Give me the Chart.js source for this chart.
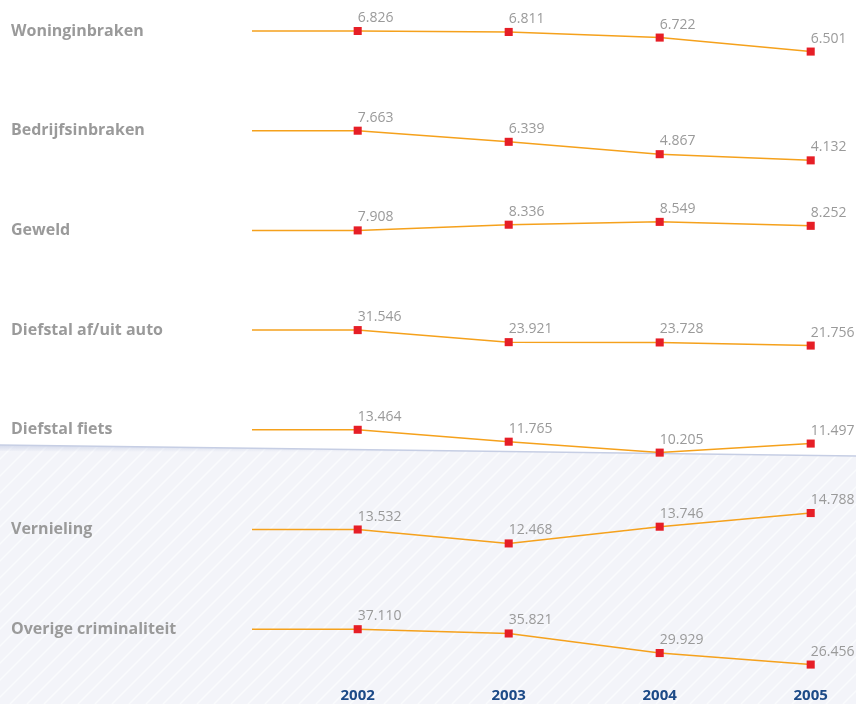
<!DOCTYPE html>
<html>
<head>
<meta charset="utf-8">
<script src="https://cdn.jsdelivr.net/npm/chart.js@4.4.1/dist/chart.umd.min.js"></script>
<style>
  html, body { margin: 0; padding: 0; background: #fff; overflow: hidden; }
  #wrap { width: 856px; height: 704px; }
</style>
</head>
<body>
<div id="wrap"><canvas id="chart"></canvas></div>
<script>
const years = [2002, 2003, 2004, 2005];
const categories = ['Woninginbraken', 'Bedrijfsinbraken', 'Geweld', 'Diefstal af/uit auto',
  'Diefstal fiets', 'Vernieling', 'Overige criminaliteit'];
const woninginbraken = [6826, 6811, 6722, 6501];
const bedrijfsinbraken = [7663, 6339, 4867, 4132];
const geweld = [7908, 8336, 8549, 8252];
const diefstalAuto = [31546, 23921, 23728, 21756];
const diefstalFiets = [13464, 11765, 10205, 11497];
const vernieling = [13532, 12468, 13746, 14788];
const overige = [37110, 35821, 29929, 26456];
const seriesValues = [woninginbraken, bedrijfsinbraken, geweld, diefstalAuto, diefstalFiets, vernieling, overige];

// every row has its own vertical scale: pixels per 1000 cases
const rowPxPer1000 = [63.3, 8.4, 13.3, 1.58, 7.0, 13.1, 3.32];
const ROW_FIRST = 31, ROW_GAP = 99.7, AXIS_H = 30, PLOT_H = 704 - AXIS_H;

const LINE = '#f5a11c';
const MARK = '#e61e26';
const GREY = '#9a9a9a';

function fmt(n) {
  return String(n).replace(/\B(?=(\d{3})+(?!\d))/g, '.');
}

const yScales = {};
seriesValues.forEach((vals, i) => {
  const perUnit = rowPxPer1000[i] / 1000;
  const rowY = ROW_FIRST + i * ROW_GAP;
  const max = vals[0] + rowY / perUnit;
  yScales['y' + i] = { type: 'linear', display: false, min: max - PLOT_H / perUnit, max: max };
});

const datasets = seriesValues.map((vals, i) => ({
  label: categories[i],
  yAxisID: 'y' + i,
  data: vals.map((v, j) => ({ x: years[j], y: v })),
  borderColor: LINE,
  borderWidth: 1.5,
  pointStyle: 'rect',
  pointRadius: 5.7,
  pointBorderWidth: 0,
  pointBackgroundColor: MARK,
  tension: 0,
  clip: false
}));

const backdrop = {
  id: 'backdrop',
  beforeDraw(chart) {
    const ctx = chart.ctx;
    const w = chart.width, h = chart.height;
    ctx.save();
    ctx.fillStyle = '#fff';
    ctx.fillRect(0, 0, w, h);
    // hatched lower band
    ctx.beginPath();
    ctx.moveTo(0, 445);
    ctx.lineTo(w, 456);
    ctx.lineTo(w, h);
    ctx.lineTo(0, h);
    ctx.closePath();
    ctx.fillStyle = '#f3f4f9';
    ctx.fill();
    ctx.clip();
    ctx.strokeStyle = '#fafbfd';
    ctx.lineWidth = 1.5;
    for (let x = -h; x < w + h; x += 17) {
      ctx.beginPath();
      ctx.moveTo(x, h);
      ctx.lineTo(x + h, 0);
      ctx.stroke();
    }
    const grad = ctx.createLinearGradient(0, 446, 0, 452);
    grad.addColorStop(0, 'rgba(205,212,232,0.7)');
    grad.addColorStop(1, 'rgba(205,212,232,0)');
    ctx.fillStyle = grad;
    ctx.beginPath();
    ctx.moveTo(0, 445);
    ctx.lineTo(w, 456);
    ctx.lineTo(w, 462);
    ctx.lineTo(0, 451);
    ctx.closePath();
    ctx.fill();
    ctx.restore();
    ctx.save();
    ctx.strokeStyle = '#c6cee4';
    ctx.lineWidth = 1.5;
    ctx.beginPath();
    ctx.moveTo(0, 445);
    ctx.lineTo(w, 456);
    ctx.stroke();
    ctx.restore();
  }
};

const rowText = {
  id: 'rowText',
  beforeDatasetsDraw(chart) {
    const ctx = chart.ctx;
    ctx.save();
    ctx.strokeStyle = LINE;
    ctx.lineWidth = 1.5;
    chart.data.datasets.forEach((ds, i) => {
      const p = chart.getDatasetMeta(i).data[0];
      ctx.beginPath();
      ctx.moveTo(chart.chartArea.left, p.y);
      ctx.lineTo(p.x, p.y);
      ctx.stroke();
      ctx.fillStyle = GREY;
      ctx.font = 'bold 16px "Open Sans"';
      ctx.textAlign = 'left';
      ctx.textBaseline = 'middle';
      ctx.fillText(ds.label, 11, p.y);
    });
    ctx.restore();
  },
  afterDatasetsDraw(chart) {
    const ctx = chart.ctx;
    ctx.save();
    ctx.fillStyle = GREY;
    ctx.font = '14px "Open Sans"';
    ctx.textAlign = 'left';
    ctx.textBaseline = 'alphabetic';
    chart.data.datasets.forEach((ds, i) => {
      chart.getDatasetMeta(i).data.forEach((p, j) => {
        ctx.fillText(fmt(seriesValues[i][j]), p.x, p.y - 9);
      });
    });
    ctx.restore();
  }
};

new Chart(document.getElementById('chart'), {
  type: 'line',
  data: { datasets },
  options: {
    responsive: true,
    maintainAspectRatio: false,
    animation: false,
    layout: { autoPadding: false, padding: { left: 252, right: 0, top: 0, bottom: 0 } },
    plugins: { legend: { display: false }, tooltip: { enabled: false } },
    scales: Object.assign({
      x: {
        type: 'linear',
        min: 2001.3,
        max: 2005.3,
        grid: { display: false, drawTicks: false },
        border: { display: false },
        afterBuildTicks: s => { s.ticks = years.map(v => ({ value: v })); },
        afterFit: s => { s.height = AXIS_H; },
        ticks: {
          padding: 13,
          color: '#1c4a87',
          font: { family: '"Open Sans"', size: 15, weight: 'bold' },
          callback: v => String(v)
        }
      }
    }, yScales)
  },
  plugins: [backdrop, rowText]
});
</script>
</body>
</html>
